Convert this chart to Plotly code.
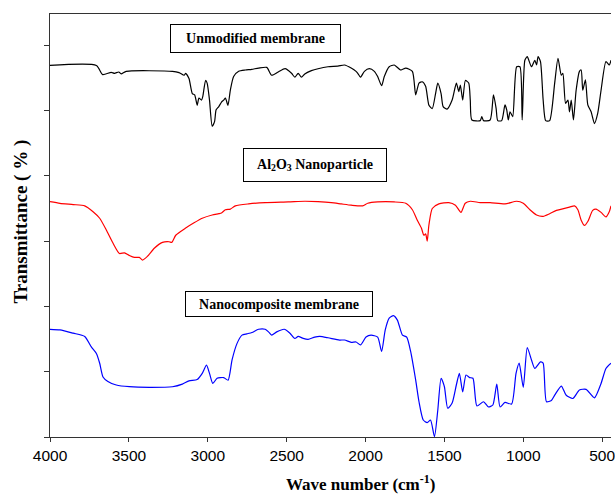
import plotly.graph_objects as go

# Unmodified membrane (black)
unmod_wn = [4000, 3706, 3666, 3612, 3591, 3564, 3549, 3517, 3224, 3182, 3150, 3140, 3119, 3098, 3083,
            3067, 3056, 3039, 3031, 3014, 3004, 2989, 2972, 2957, 2947, 2930, 2913, 2899, 2888, 2872,
            2857, 2836, 2804, 2762, 2721, 2678, 2626, 2595, 2553, 2510, 2469, 2448, 2427, 2406, 2385,
            2343, 2301, 2238, 2175, 2133, 2091, 2060, 2049, 2032, 2007, 1976, 1944, 1923, 1898, 1881,
            1850, 1818, 1777, 1745, 1703, 1682, 1661, 1640, 1619, 1598, 1577, 1556, 1542, 1521, 1508,
            1483, 1451, 1424, 1409, 1399, 1384, 1367, 1346, 1336, 1326, 1273, 1263, 1252, 1210, 1189,
            1172, 1162, 1137, 1116, 1105, 1095, 1084, 1067, 1042, 1021, 1007, 990, 975, 948, 927,
            916, 906, 891, 874, 858, 833, 801, 780, 759, 749, 732, 717, 707, 696, 682,
            665, 644, 633, 623, 606, 591, 570, 549, 528, 507, 476, 455, 444]
unmod_t = [56.9, 56.9, 55.5, 55.85, 55.7, 55.9, 55.6, 56.0, 56.0, 55.8, 55.4, 55.7, 54.9, 52.6, 52.4,
           50.8, 51.9, 51.6, 52.2, 54.6, 54.2, 51.6, 47.6, 48.3, 50.1, 50.6, 51.3, 51.6, 51.9, 50.8,
           53.1, 55.2, 56.0, 56.2, 56.3, 56.5, 56.6, 55.4, 55.9, 56.4, 55.7, 55.1, 55.7, 55.1, 55.6,
           56.1, 56.4, 56.7, 56.8, 56.97, 56.5, 56.0, 55.7, 55.1, 56.0, 56.4, 56.0, 55.2, 53.8, 55.2,
           56.7, 56.97, 56.2, 56.5, 56.0, 52.4, 54.2, 54.4, 53.7, 50.8, 50.3, 52.6, 54.2, 52.6, 50.6,
           50.2, 51.6, 54.2, 52.9, 53.9, 51.6, 54.6, 54.2, 51.6, 48.55, 48.45, 49.06, 48.45, 48.55, 52.4,
           50.3, 48.45, 48.45, 50.85, 50.1, 48.55, 49.8, 49.06, 56.7, 56.7, 48.55, 57.7, 58.25, 56.7, 57.7,
           56.97, 58.25, 57.5, 51.6, 48.45, 48.45, 54.2, 58.0, 55.4, 55.7, 51.1, 51.6, 49.8, 51.6, 48.55,
           53.1, 56.0, 56.2, 53.1, 54.7, 50.85, 49.8, 48.0, 49.6, 53.1, 57.5, 56.97, 57.7]

# Al2O3 nanoparticle (red)
al_wn = [4000, 3937, 3853, 3780, 3727, 3685, 3643, 3601, 3560, 3528, 3497, 3465, 3434, 3413, 3381,
         3339, 3287, 3245, 3228, 3203, 3140, 3087, 3035, 2972, 2930, 2913, 2888, 2857, 2825, 2741,
         2636, 2490, 2385, 2301, 2217, 2154, 2091, 2018, 1986, 1923, 1818, 1745, 1703, 1672, 1646,
         1630, 1619, 1609, 1598, 1577, 1535, 1472, 1430, 1395, 1368, 1336, 1273, 1210, 1116, 1042,
         1000, 958, 916, 874, 833, 790, 707, 675, 654, 633, 612, 591, 560, 539, 507, 476, 455, 444]
al_t = [36.04, 35.79, 35.6, 35.4, 34.5, 33.5, 31.7, 29.7, 28.1, 28.2, 27.8, 27.5, 27.5, 27.1, 27.7,
        28.9, 29.8, 29.9, 29.8, 30.9, 32.0, 32.8, 33.5, 34.0, 34.2, 34.3, 34.8, 34.9, 35.4, 35.7,
        35.9, 36.0, 36.1, 36.04, 35.9, 35.7, 35.5, 35.4, 35.8, 36.0, 36.0, 35.8, 34.8, 33.2, 32.0,
        30.9, 31.1, 30.0, 32.5, 35.0, 35.7, 35.9, 35.5, 34.4, 35.8, 36.1, 35.9, 35.9, 35.7, 36.1,
        35.8, 34.8, 34.0, 33.8, 34.2, 34.7, 35.2, 35.4, 34.8, 33.2, 32.4, 33.0, 34.7, 34.9, 34.4,
        33.7, 34.5, 35.4]

# Nanocomposite membrane (blue)
nano_wn = [4000, 3937, 3853, 3780, 3738, 3706, 3685, 3664, 3633, 3580, 3497, 3371, 3224, 3161, 3119,
           3067, 3035, 3008, 2989, 2968, 2941, 2899, 2871, 2846, 2815, 2783, 2752, 2720, 2678, 2636,
           2615, 2595, 2563, 2515, 2479, 2448, 2427, 2395, 2364, 2322, 2290, 2238, 2165, 2133, 2091,
           2060, 2032, 1997, 1965, 1923, 1898, 1875, 1850, 1823, 1798, 1766, 1739, 1714, 1682, 1661,
           1634, 1609, 1588, 1563, 1542, 1521, 1500, 1479, 1451, 1424, 1405, 1384, 1363, 1340, 1319,
           1294, 1252, 1221, 1193, 1168, 1147, 1116, 1074, 1046, 1026, 1000, 975, 948, 927, 891,
           874, 853, 822, 801, 759, 728, 686, 644, 602, 549, 507, 476, 444]
nano_t = [16.49, 16.4, 15.9, 15.4, 13.8, 12.8, 11.3, 9.2, 8.5, 7.96, 7.7, 7.6, 7.7, 8.1, 8.6,
          8.8, 9.75, 11.0, 9.75, 8.2, 9.0, 9.1, 8.7, 11.8, 14.3, 15.6, 15.8, 16.0, 16.5, 16.5,
          16.1, 15.6, 16.1, 16.5, 15.9, 15.1, 15.4, 15.1, 14.96, 15.3, 15.4, 15.2, 14.85, 14.85, 14.5,
          14.55, 14.1, 15.3, 15.6, 15.3, 13.1, 16.4, 18.2, 18.6, 17.9, 15.6, 15.3, 13.1, 8.7, 5.4,
          2.6, 2.2, 2.6, 0.05, 4.1, 9.0, 7.7, 4.4, 5.2, 8.0, 9.75, 6.9, 9.5, 9.1, 9.0,
          4.75, 5.4, 4.6, 4.9, 8.1, 4.6, 5.3, 5.05, 9.75, 11.3, 7.6, 13.7, 11.8, 10.5, 11.5,
          11.3, 5.4, 5.6, 6.4, 7.8, 6.4, 5.9, 7.2, 7.3, 6.0, 8.2, 10.5, 11.3]

x_ticks = [4000, 3500, 3000, 2500, 2000, 1500, 1000, 500]
x_tick_text = ["4000", "3500", "3000", "2500", "2000", "1500", "1000", "500"]

fig = go.Figure()
for wn, t, col in [(unmod_wn, unmod_t, "#000000"), (al_wn, al_t, "#FF0000"), (nano_wn, nano_t, "#0000FF")]:
    fig.add_trace(go.Scatter(x=wn, y=t, mode="lines",
                             line=dict(color=col, width=1.2, shape="spline", smoothing=0.6),
                             showlegend=False, hoverinfo="skip"))

serif = "Liberation Serif, Times New Roman, serif"
box_font = dict(family=serif, size=14, color="black")

annotations = [
    dict(text="<b>Unmodified membrane</b>", x=0.367, y=0.942, width=169, height=27),
    dict(text="<b>Al<sub>2</sub>O<sub>3</sub> Nanoparticle</b>", x=0.4726, y=0.643, width=142, height=32),
    dict(text="<b>Nanocomposite membrane</b>", x=0.409, y=0.3144, width=186, height=24),
]
anns = []
for a in annotations:
    anns.append(dict(text=a["text"], x=a["x"], y=a["y"], xref="paper", yref="paper",
                     xanchor="center", yanchor="middle", showarrow=False,
                     width=a["width"], height=a["height"], bordercolor="black",
                     borderwidth=1, borderpad=0, bgcolor="white", font=box_font))
anns.append(dict(text="<b>Wave number (cm<sup>-1</sup>)</b>", x=0.554, y=-0.108,
                 xref="paper", yref="paper", xanchor="center", yanchor="middle",
                 showarrow=False, font=dict(family=serif, size=17, color="black")))
anns.append(dict(text="<b>Transmittance ( % )</b>", x=-0.0513, y=0.51,
                 xref="paper", yref="paper", xanchor="center", yanchor="middle",
                 showarrow=False, textangle=-90, font=dict(family=serif, size=19, color="black")))

fig.update_layout(
    width=615, height=495,
    margin=dict(l=50, r=0, t=14, b=58),
    plot_bgcolor="white", paper_bgcolor="white",
    annotations=anns,
    xaxis=dict(range=[4000, 444], tickvals=x_ticks, ticktext=x_tick_text,
               ticks="outside", ticklen=4, tickcolor="#333", showline=True,
               linecolor="#333", linewidth=1, mirror=True, showgrid=False, zeroline=False,
               ticklabeloverflow="allow",
               tickfont=dict(family="Liberation Sans, Arial, sans-serif", size=15.5, color="black")),
    yaxis=dict(range=[0, 64.78], tick0=0, dtick=10, ticks="outside", ticklen=5,
               tickcolor="#333", showline=True, linecolor="#333", linewidth=1,
               showticklabels=False, showgrid=False, zeroline=False),
)

fig.write_html("out.html", config={"displayModeBar": False},
               post_script="document.body.style.margin='0';document.body.style.overflow='hidden';")
